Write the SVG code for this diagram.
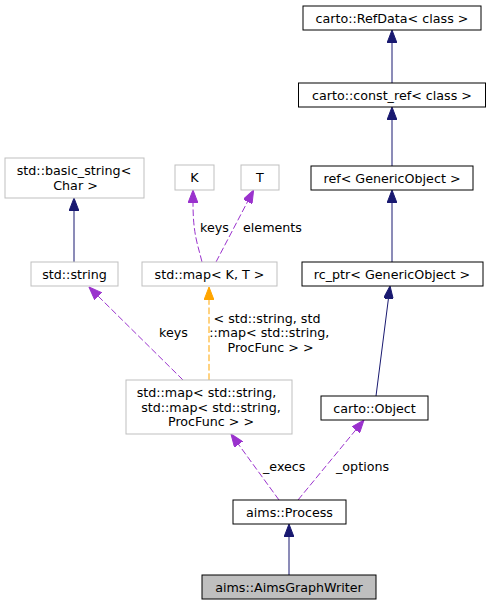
<svg xmlns="http://www.w3.org/2000/svg" width="491" height="607" viewBox="0 0 491 607">
<style>
text{font-family:"DejaVu Sans","Liberation Sans",sans-serif;font-size:12.7px;fill:#000}
.n text{text-anchor:middle}
.doc{fill:#fff;stroke:#000;stroke-width:1}
.und{fill:#fff;stroke:#bfbfbf;stroke-width:1}
.cur{fill:#bfbfbf;stroke:#000;stroke-width:1}
.e{fill:none;stroke-width:1}
.inh{stroke:#191970}
.use{stroke:#9a32cd;stroke-dasharray:6.7,2.7}
.tpl{stroke:#ffa500;stroke-dasharray:6.7,2.7}
</style>
<defs>
<marker id="aN" viewBox="0 0 13 10" refX="0" refY="5" markerUnits="userSpaceOnUse" markerWidth="13" markerHeight="10" orient="auto"><path d="M0,0 L13,5 L0,10 z" fill="#191970" stroke="#191970"/></marker>
<marker id="aP" viewBox="0 0 13 10" refX="0" refY="5" markerUnits="userSpaceOnUse" markerWidth="13" markerHeight="10" orient="auto"><path d="M0,0 L13,5 L0,10 z" fill="#9a32cd" stroke="#9a32cd"/></marker>
<marker id="aO" viewBox="0 0 13 10" refX="0" refY="5" markerUnits="userSpaceOnUse" markerWidth="13" markerHeight="10" orient="auto"><path d="M0,0 L13,5 L0,10 z" fill="#ffa500" stroke="#ffa500"/></marker>
</defs>
<g id="edges">
<path class="e inh" d="M392,83 L392,43" marker-end="url(#aN)"/>
<path class="e inh" d="M392,166 L392,120" marker-end="url(#aN)"/>
<path class="e inh" d="M392,262 L392,203" marker-end="url(#aN)"/>
<path class="e inh" d="M376,396 L388.4,298.9" marker-end="url(#aN)"/>
<path class="e inh" d="M289,575 L289,537" marker-end="url(#aN)"/>
<path class="e inh" d="M74,262 L74,211" marker-end="url(#aN)"/>
<path class="e use" d="M279,500 L238.6,444.5" marker-end="url(#aP)"/>
<path class="e use" d="M298,500 L355.7,430" marker-end="url(#aP)"/>
<path class="e use" d="M183,380 L98.2,296.2" marker-end="url(#aP)"/>
<path class="e use" d="M202,262 C198,245 193,235 193,203" marker-end="url(#aP)"/>
<path class="e use" d="M216,262 L247.6,201.6" marker-end="url(#aP)"/>
<path class="e tpl" d="M209,380 L209,300" marker-end="url(#aO)"/>
<text x="200" y="232">keys</text>
<text x="243" y="232">elements</text>
<text x="159" y="337">keys</text>
<text x="267" y="322.5" text-anchor="middle">&lt; std::string, std</text>
<text x="269.3" y="337" text-anchor="middle">::map&lt; std::string,</text>
<text x="270.5" y="351.5" text-anchor="middle">ProcFunc &gt; &gt;</text>
<text x="263" y="471">_execs</text>
<text x="336" y="471">_options</text>
</g>
<g id="node_refdata" class="n"><rect class="doc" x="303" y="6" width="178" height="24"/><text x="392" y="22.5">carto::RefData&lt; class &gt;</text></g>
<g id="node_const_ref" class="n"><rect class="doc" x="298.5" y="83" width="187" height="24"/><text x="392" y="99.5">carto::const_ref&lt; class &gt;</text></g>
<g id="node_ref" class="n"><rect class="doc" x="311" y="166" width="162" height="24"/><text x="392" y="182.5">ref&lt; GenericObject &gt;</text></g>
<g id="node_rc_ptr" class="n"><rect class="doc" x="302" y="262" width="181" height="24"/><text x="392" y="278.5">rc_ptr&lt; GenericObject &gt;</text></g>
<g id="node_object" class="n"><rect class="doc" x="321" y="396" width="107" height="24"/><text x="374.5" y="412.5">carto::Object</text></g>
<g id="node_process" class="n"><rect class="doc" x="233" y="500" width="113" height="24"/><text x="289.5" y="516.5">aims::Process</text></g>
<g id="node_writer" class="n"><rect class="cur" x="202" y="575" width="174" height="24"/><text x="289" y="591.5">aims::AimsGraphWriter</text></g>
<g id="node_basic_string" class="n"><rect class="und" x="5" y="158" width="139" height="40"/><text x="74" y="175">std::basic_string&lt;</text><text x="75.5" y="189.5">Char &gt;</text></g>
<g id="node_K" class="n"><rect class="und" x="175" y="165" width="39" height="25"/><text x="194.5" y="181.5">K</text></g>
<g id="node_T" class="n"><rect class="und" x="241" y="165" width="38" height="25"/><text x="260" y="181.5">T</text></g>
<g id="node_string" class="n"><rect class="und" x="31" y="262" width="87" height="24"/><text x="74.5" y="278.5">std::string</text></g>
<g id="node_mapKT" class="n"><rect class="und" x="142" y="262" width="135" height="24"/><text x="209.5" y="278.5">std::map&lt; K, T &gt;</text></g>
<g id="node_map" class="n"><rect class="und" x="126" y="380" width="166" height="54"/><text x="206.5" y="397">std::map&lt; std::string,</text><text x="211" y="411.5">std::map&lt; std::string,</text><text x="211" y="426">ProcFunc &gt; &gt;</text></g>
</svg>
